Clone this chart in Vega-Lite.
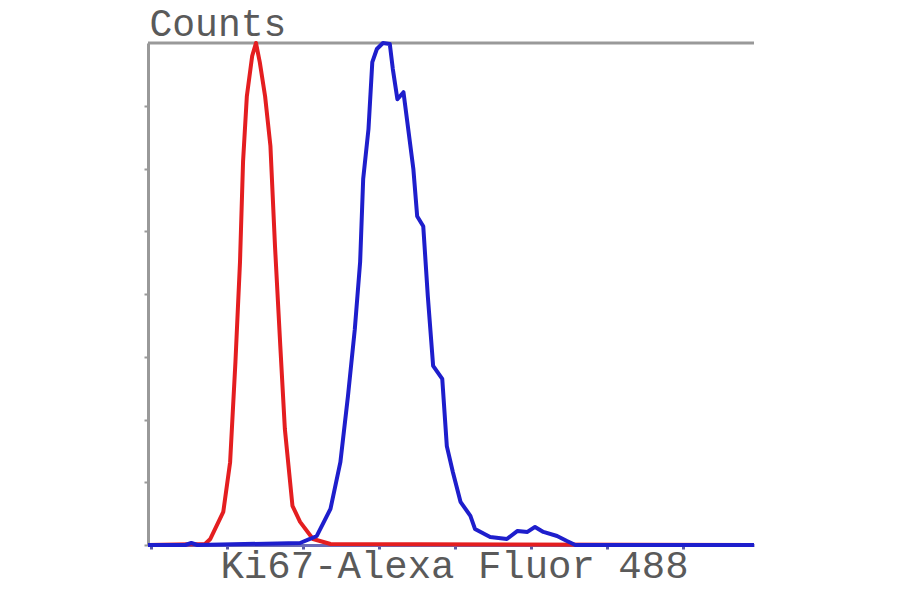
{
  "$schema": "https://vega.github.io/schema/vega-lite/v6.json",
  "width": 606,
  "height": 502,
  "autosize": "none",
  "padding": {"left": 148, "top": 43, "right": 146, "bottom": 49},
  "background": "white",
  "config": {"view": {"stroke": null}},
  "datasets": {
    "hist": [
      {"s": "control", "x": -0.04, "y": 0},
      {"s": "control", "x": 0.71, "y": 0.2},
      {"s": "control", "x": 0.78, "y": 1.2},
      {"s": "control", "x": 0.95, "y": 6.6},
      {"s": "control", "x": 1.04, "y": 16.5},
      {"s": "control", "x": 1.11, "y": 36.5},
      {"s": "control", "x": 1.17, "y": 56.4},
      {"s": "control", "x": 1.21, "y": 76.3},
      {"s": "control", "x": 1.26, "y": 89.4},
      {"s": "control", "x": 1.33, "y": 97.4},
      {"s": "control", "x": 1.38, "y": 100},
      {"s": "control", "x": 1.43, "y": 96.2},
      {"s": "control", "x": 1.50, "y": 89.4},
      {"s": "control", "x": 1.57, "y": 79.5},
      {"s": "control", "x": 1.63, "y": 59.6},
      {"s": "control", "x": 1.70, "y": 39.6},
      {"s": "control", "x": 1.76, "y": 23.1},
      {"s": "control", "x": 1.86, "y": 7.8},
      {"s": "control", "x": 1.96, "y": 4.6},
      {"s": "control", "x": 2.13, "y": 1.2},
      {"s": "control", "x": 2.36, "y": 0.2},
      {"s": "control", "x": 7.93, "y": 0},
      {"s": "Ki67", "x": -0.04, "y": 0},
      {"s": "Ki67", "x": 0.45, "y": 0},
      {"s": "Ki67", "x": 0.53, "y": 0.4},
      {"s": "Ki67", "x": 0.61, "y": 0},
      {"s": "Ki67", "x": 1.96, "y": 0.4},
      {"s": "Ki67", "x": 2.09, "y": 1.2},
      {"s": "Ki67", "x": 2.18, "y": 1.8},
      {"s": "Ki67", "x": 2.36, "y": 7.2},
      {"s": "Ki67", "x": 2.49, "y": 16.5},
      {"s": "Ki67", "x": 2.59, "y": 29.7},
      {"s": "Ki67", "x": 2.68, "y": 43.0},
      {"s": "Ki67", "x": 2.75, "y": 56.4},
      {"s": "Ki67", "x": 2.79, "y": 72.9},
      {"s": "Ki67", "x": 2.86, "y": 82.9},
      {"s": "Ki67", "x": 2.91, "y": 96.2},
      {"s": "Ki67", "x": 2.97, "y": 98.8},
      {"s": "Ki67", "x": 3.05, "y": 100},
      {"s": "Ki67", "x": 3.14, "y": 99.8},
      {"s": "Ki67", "x": 3.18, "y": 94.8},
      {"s": "Ki67", "x": 3.24, "y": 88.8},
      {"s": "Ki67", "x": 3.32, "y": 90.2},
      {"s": "Ki67", "x": 3.37, "y": 84.3},
      {"s": "Ki67", "x": 3.45, "y": 74.9},
      {"s": "Ki67", "x": 3.50, "y": 65.5},
      {"s": "Ki67", "x": 3.58, "y": 63.5},
      {"s": "Ki67", "x": 3.64, "y": 49.6},
      {"s": "Ki67", "x": 3.71, "y": 35.7},
      {"s": "Ki67", "x": 3.83, "y": 33.1},
      {"s": "Ki67", "x": 3.89, "y": 19.7},
      {"s": "Ki67", "x": 3.97, "y": 14.5},
      {"s": "Ki67", "x": 4.07, "y": 8.6},
      {"s": "Ki67", "x": 4.20, "y": 5.8},
      {"s": "Ki67", "x": 4.26, "y": 3.2},
      {"s": "Ki67", "x": 4.46, "y": 1.6},
      {"s": "Ki67", "x": 4.68, "y": 1.2},
      {"s": "Ki67", "x": 4.82, "y": 2.8},
      {"s": "Ki67", "x": 4.95, "y": 2.6},
      {"s": "Ki67", "x": 5.05, "y": 3.6},
      {"s": "Ki67", "x": 5.16, "y": 2.6},
      {"s": "Ki67", "x": 5.34, "y": 1.8},
      {"s": "Ki67", "x": 5.47, "y": 0.8},
      {"s": "Ki67", "x": 5.58, "y": 0},
      {"s": "Ki67", "x": 7.93, "y": 0}
    ],
    "top": [{"y": 100}]
  },
  "layer": [
    {
      "data": {"name": "top"},
      "mark": {"type": "rule", "color": "#999999", "strokeWidth": 3},
      "encoding": {
        "y": {"field": "y", "type": "quantitative", "scale": {"domain": [0, 100]}}
      }
    },
    {
      "data": {"name": "hist"},
      "transform": [{"filter": "datum.s === 'control'"}],
      "mark": {"type": "line", "color": "#e41e20", "strokeWidth": 4, "strokeJoin": "round"},
      "encoding": {
        "x": {
          "field": "x", "type": "quantitative",
          "scale": {"domain": [-0.04, 7.93], "nice": false, "zero": false},
          "axis": {
            "title": "Ki67-Alexa Fluor 488",
            "values": [0, 1, 2, 3, 4, 5, 6, 7],
            "labels": false, "grid": false,
            "domainColor": "#6a6ab8", "domainWidth": 3,
            "tickColor": "#5a5aa8", "tickSize": 4, "tickWidth": 3,
            "titleFont": "Liberation Mono", "titleFontSize": 39, "titleFontWeight": "normal",
            "titleColor": "#5a5a5a", "titleBaseline": "alphabetic", "titleY": 32, "titleX": 306
          }
        },
        "y": {
          "field": "y", "type": "quantitative",
          "scale": {"domain": [0, 100], "nice": false},
          "axis": {
            "title": "Counts",
            "values": [0, 12.5, 25, 37.5, 50, 62.5, 75, 87.5],
            "labels": false, "grid": false,
            "domainColor": "#999999", "domainWidth": 3,
            "tickColor": "#999999", "tickSize": 4, "tickWidth": 2,
            "titleFont": "Liberation Mono", "titleFontSize": 38, "titleFontWeight": "normal",
            "titleColor": "#5a5a5a", "titleAngle": 0, "titleAlign": "left",
            "titleBaseline": "alphabetic", "titleX": 1, "titleY": -8
          }
        }
      }
    },
    {
      "data": {"name": "hist"},
      "transform": [{"filter": "datum.s === 'Ki67'"}],
      "mark": {"type": "line", "color": "#1e1ecc", "strokeWidth": 4, "strokeJoin": "round"},
      "encoding": {
        "x": {"field": "x", "type": "quantitative"},
        "y": {"field": "y", "type": "quantitative"}
      }
    }
  ]
}
